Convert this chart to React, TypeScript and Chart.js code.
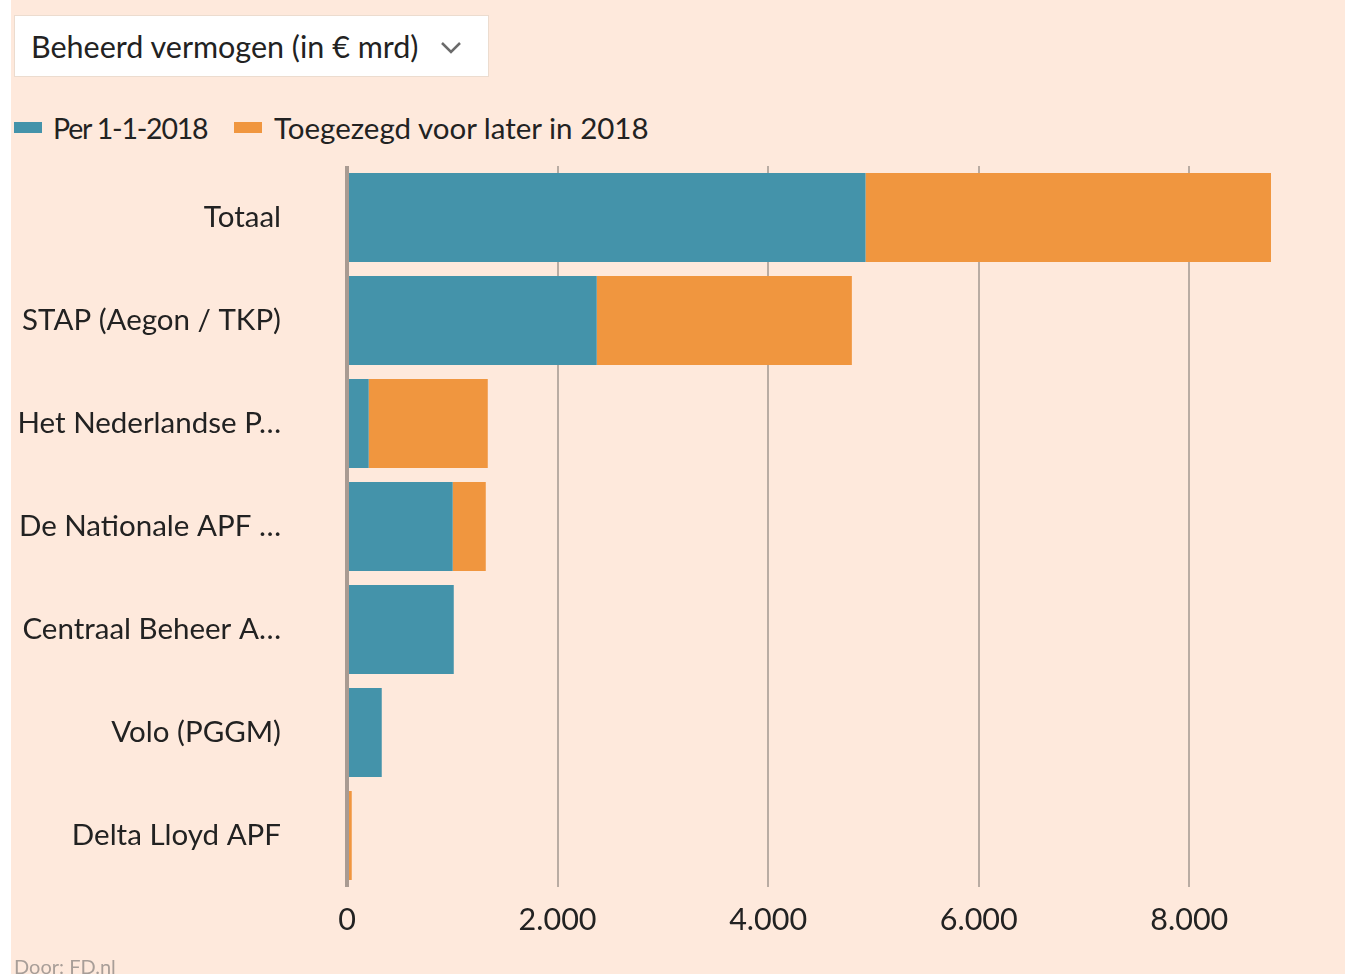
import React, { useEffect, useRef } from "react";
import { Chart, registerables } from "chart.js";

Chart.register(...registerables);

const categories = [
  "Totaal",
  "STAP (Aegon / TKP)",
  "Het Nederlandse P…",
  "De Nationale APF …",
  "Centraal Beheer A…",
  "Volo (PGGM)",
  "Delta Lloyd APF",
];
const perJan2018 = [4925, 2372, 206, 1004, 1014, 330, 0];
const laterIn2018 = [3851, 2423, 1131, 314, 0, 0, 45];
const seriesNames = ["Per 1-1-2018", "Toegezegd voor later in 2018"];
const xTicks = [0, 2000, 4000, 6000, 8000];
const xMax = 8776;

const BLUE = "#4493aa";
const ORANGE = "#f0963f";
const BG = "#fee9dc";
const TEXT = "#222222";
const FONT = "Lato, 'Noto Sans', sans-serif";

export default function App() {
  const ref = useRef<HTMLCanvasElement | null>(null);

  useEffect(() => {
    if (!ref.current) return;
    const chart = new Chart(ref.current, {
      type: "bar",
      data: {
        labels: categories,
        datasets: [
          { label: seriesNames[0], data: perJan2018, backgroundColor: BLUE, borderWidth: 0 },
          { label: seriesNames[1], data: laterIn2018, backgroundColor: ORANGE, borderWidth: 0 },
        ],
      },
      options: {
        indexAxis: "y",
        animation: false,
        responsive: false,
        maintainAspectRatio: false,
        layout: { padding: { left: 0, right: 74, top: 16, bottom: 0 } },
        datasets: { bar: { categoryPercentage: 1, barPercentage: 0.864 } } as any,
        plugins: { legend: { display: false }, tooltip: { enabled: false } },
        scales: {
          x: {
            stacked: true,
            min: 0,
            max: xMax,
            afterBuildTicks: (s: any) => {
              s.ticks = xTicks.map((v) => ({ value: v }));
            },
            afterFit: (s: any) => {
              s.height = 87;
              s.paddingLeft = 0;
              s.paddingRight = 0;
            },
            border: { display: false },
            grid: {
              drawTicks: false,
              color: (c: any) => (c.tick && c.tick.value === 0 ? "#a99b92" : "#b9aca3"),
              lineWidth: (c: any) => (c.tick && c.tick.value === 0 ? 4 : 2),
            },
            ticks: {
              padding: 15,
              color: TEXT,
              font: { family: FONT, size: 30.5 },
              callback: (v: any) => Number(v).toLocaleString("nl-NL"),
            },
          },
          y: {
            stacked: true,
            afterFit: (s: any) => {
              s.width = 336;
              s.paddingTop = 0;
              s.paddingBottom = 0;
            },
            border: { display: false },
            grid: { display: false, drawTicks: false },
            ticks: {
              padding: 66,
              color: TEXT,
              font: { family: FONT, size: 29.5 },
            },
          },
        },
      },
    });
    return () => chart.destroy();
  }, []);

  const legendText: React.CSSProperties = {
    position: "absolute",
    top: 110,
    fontSize: 29.5,
    lineHeight: "36px",
    color: TEXT,
    whiteSpace: "nowrap",
  };
  const legendBox: React.CSSProperties = {
    position: "absolute",
    top: 122,
    width: 28,
    height: 11,
  };

  return (
    <div
      style={{
        position: "absolute",
        left: 0,
        top: 0,
        width: 1345,
        height: 974,
        overflow: "hidden",
        background: "#ffffff",
        fontFamily: FONT,
      }}
    >
      <div
        style={{
          position: "absolute",
          left: 11,
          top: 0,
          width: 1334,
          height: 974,
          background: BG,
        }}
      />
      <div
        style={{
          position: "absolute",
          left: 14,
          top: 15,
          width: 475,
          height: 62,
          background: "#ffffff",
          border: "1px solid #ecdccf",
          boxSizing: "border-box",
        }}
      >
        <span
          style={{
            position: "absolute",
            left: 16,
            top: 13,
            fontSize: 30.5,
            lineHeight: "34px",
            color: TEXT,
            whiteSpace: "nowrap",
          }}
        >
          Beheerd vermogen (in € mrd)
        </span>
        <svg
          style={{ position: "absolute", left: 425, top: 25 }}
          width="22"
          height="14"
          viewBox="0 0 22 14"
        >
          <path d="M2 2 L11 11 L20 2" stroke="#6b6b6b" strokeWidth="2.5" fill="none" />
        </svg>
      </div>
      <span style={{ ...legendBox, left: 14, background: BLUE }} />
      <span style={{ ...legendText, left: 53, fontSize: 28.5, letterSpacing: "-1.2px" }}>{seriesNames[0]}</span>
      <span style={{ ...legendBox, left: 234, background: ORANGE }} />
      <span style={{ ...legendText, left: 274 }}>{seriesNames[1]}</span>
      <canvas
        ref={ref}
        width={1334}
        height={824}
        style={{ position: "absolute", left: 11, top: 150, width: 1334, height: 824 }}
      />
      <div
        style={{
          position: "absolute",
          left: 14,
          top: 954,
          fontSize: 20,
          lineHeight: "24px",
          color: "#a89e98",
          whiteSpace: "nowrap",
        }}
      >
        Door: FD.nl
      </div>
    </div>
  );
}
